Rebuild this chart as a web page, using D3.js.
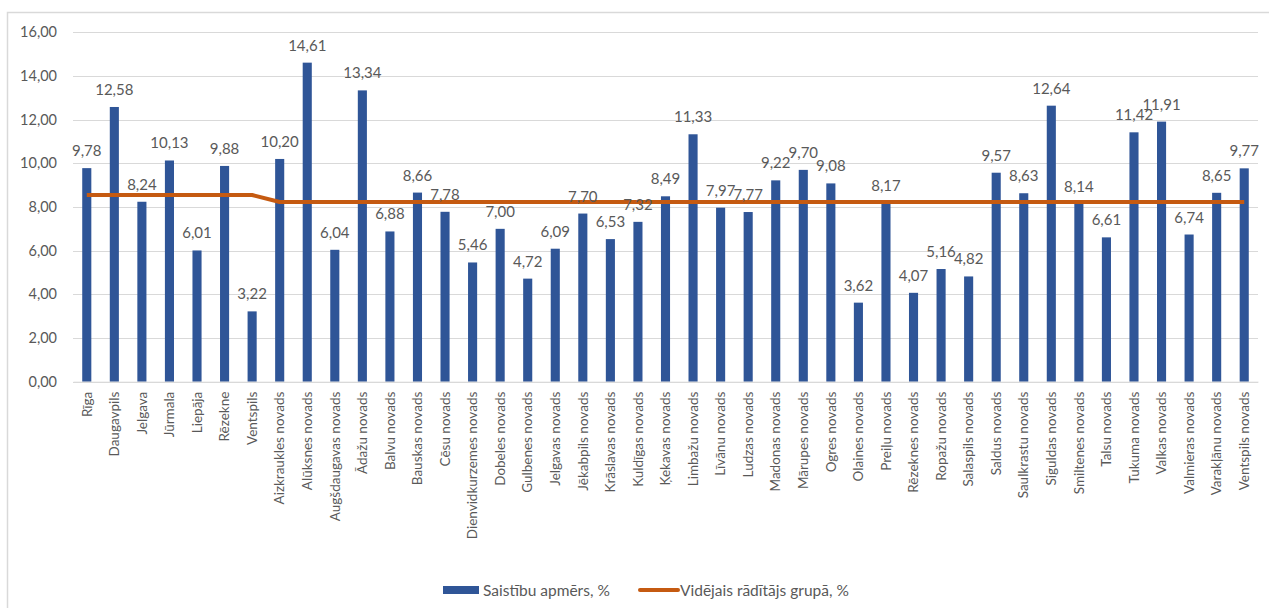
<!DOCTYPE html>
<html>
<head>
<meta charset="utf-8">
<script src="https://cdn.jsdelivr.net/npm/d3@7"></script>
<style>
  body { margin: 0; background: #fff; }
  svg { display: block; }
  text { font-family: Lato, "Open Sans", sans-serif; fill: #595959; }
</style>
</head>
<body>
<svg id="chart" width="1269" height="608"></svg>
<script>
const categories = ["Rīga","Daugavpils","Jelgava","Jūrmala","Liepāja","Rēzekne","Ventspils",
  "Aizkraukles novads","Alūksnes novads","Augšdaugavas novads","Ādažu novads","Balvu novads",
  "Bauskas novads","Cēsu novads","Dienvidkurzemes novads","Dobeles novads","Gulbenes novads",
  "Jelgavas novads","Jēkabpils novads","Krāslavas novads","Kuldīgas novads","Ķekavas novads",
  "Limbažu novads","Līvānu novads","Ludzas novads","Madonas novads","Mārupes novads",
  "Ogres novads","Olaines novads","Preiļu novads","Rēzeknes novads","Ropažu novads",
  "Salaspils novads","Saldus novads","Saulkrastu novads","Siguldas novads","Smiltenes novads",
  "Talsu novads","Tukuma novads","Valkas novads","Valmieras novads","Varakļānu novads",
  "Ventspils novads"];
const liabilities = [9.78,12.58,8.24,10.13,6.01,9.88,3.22,10.20,14.61,6.04,13.34,6.88,8.66,7.78,
  5.46,7.00,4.72,6.09,7.70,6.53,7.32,8.49,11.33,7.97,7.77,9.22,9.70,9.08,3.62,8.17,4.07,5.16,
  4.82,9.57,8.63,12.64,8.14,6.61,11.42,11.91,6.74,8.65,9.77];
const groupAverage = [8.55,8.55,8.55,8.55,8.55,8.55,8.55,
  8.23,8.23,8.23,8.23,8.23,8.23,8.23,8.23,8.23,8.23,8.23,8.23,8.23,8.23,8.23,8.23,8.23,8.23,
  8.23,8.23,8.23,8.23,8.23,8.23,8.23,8.23,8.23,8.23,8.23,8.23,8.23,8.23,8.23,8.23,8.23,8.23];
const yTicks = [0,2,4,6,8,10,12,14,16];
const seriesNames = ["Saistību apmērs, %","Vidējais rādītājs grupā, %"];

const fmt = v => v.toFixed(2).replace(".", ",");
const svg = d3.select("#chart");

// outer border
svg.append("rect").attr("x",7.5).attr("y",12.5).attr("width",1300).attr("height",700)
  .attr("fill","none").attr("stroke","#d9d9d9").attr("stroke-width",1.5);

const pLeft = 73, pRight = 1258, pTop = 32.3, pBottom = 381.7;
const x = d3.scaleBand().domain(categories).range([pLeft, pRight]).paddingInner(0.67).paddingOuter(0.335);
const y = d3.scaleLinear().domain([0,16]).range([pBottom, pTop]);

// gridlines
svg.append("g").selectAll("line").data(yTicks).join("line")
  .attr("x1", pLeft).attr("x2", pRight)
  .attr("y1", d => Math.round(y(d)) + 0.5).attr("y2", d => Math.round(y(d)) + 0.5)
  .attr("stroke", "#d9d9d9").attr("stroke-width", 1);

// y axis labels
const yAxis = d3.axisLeft(y).tickValues(yTicks).tickFormat(fmt).tickSize(0).tickPadding(0);
const gy = svg.append("g").attr("transform", `translate(${pLeft - 16},0)`).call(yAxis);
gy.select(".domain").remove();
gy.selectAll("text").attr("font-size", 14.5).attr("fill", "#595959").style("font-family","Lato, sans-serif");

// bars
svg.append("g").selectAll("rect").data(liabilities).join("rect")
  .attr("x", (d,i) => x(categories[i]))
  .attr("width", x.bandwidth())
  .attr("y", d => y(d))
  .attr("height", d => y(0) - y(d))
  .attr("fill", "#2f5597");

// average line
const line = d3.line().x((d,i) => x(categories[i]) + x.bandwidth()/2).y(d => y(d));
svg.append("path").datum(groupAverage).attr("d", line)
  .attr("fill","none").attr("stroke","#c55a11").attr("stroke-width",4)
  .attr("stroke-linejoin","round");

// data labels
svg.append("g").selectAll("text").data(liabilities).join("text")
  .attr("x", (d,i) => x(categories[i]) + x.bandwidth()/2)
  .attr("y", d => y(d) - 12)
  .attr("text-anchor","middle").attr("font-size",15)
  .text(fmt);

// x axis labels
const xAxis = d3.axisBottom(x).tickSize(0).tickPadding(0);
const gx = svg.append("g").attr("transform", `translate(0,${pBottom})`).call(xAxis);
gx.select(".domain").attr("stroke","#d9d9d9").attr("stroke-width",1);
gx.selectAll("text")
  .attr("transform","rotate(-90)")
  .attr("x", -10).attr("y", 0).attr("dy","0.35em")
  .attr("text-anchor","end").attr("font-size",13.5)
  .attr("fill","#595959").style("font-family","Lato, sans-serif");

// legend
const lg = svg.append("g");
lg.append("rect").attr("x",443).attr("y",586).attr("width",36).attr("height",8).attr("fill","#2f5597");
lg.append("text").attr("x",483).attr("y",595.5).attr("font-size",15.5).text(seriesNames[0]);
lg.append("line").attr("x1",640).attr("x2",678).attr("y1",590).attr("y2",590)
  .attr("stroke","#c55a11").attr("stroke-width",4).attr("stroke-linecap","round");
lg.append("text").attr("x",680).attr("y",595.5).attr("font-size",15.5).text(seriesNames[1]);
</script>
</body>
</html>
